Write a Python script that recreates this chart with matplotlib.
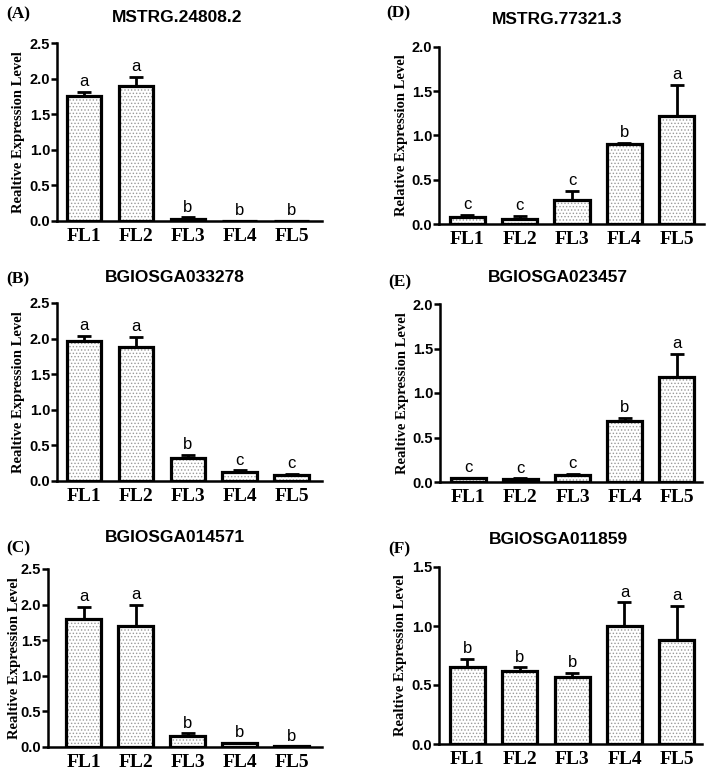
import numpy as np
import matplotlib
matplotlib.use("Agg")
import matplotlib.pyplot as plt

plt.rcParams['hatch.linewidth'] = 0.6

groups = ['FL1', 'FL2', 'FL3', 'FL4', 'FL5']

titles = ['MSTRG.24808.2', 'BGIOSGA033278', 'BGIOSGA014571',
          'MSTRG.77321.3', 'BGIOSGA023457', 'BGIOSGA011859']
panel_labels = ['(A)', '(B)', '(C)', '(D)', '(E)', '(F)']
ylabels = ['Realtive Expression Level', 'Realtive Expression Level', 'Realtive Expression Level',
           'Relative Expression Level', 'Realtive Expression Level', 'Realtive Expression Level']

means_a = [1.75, 1.90, 0.03, 0.005, 0.005]
err_a = [0.06, 0.12, 0.02, 0.0, 0.0]
means_b = [1.97, 1.88, 0.32, 0.12, 0.08]
err_b = [0.07, 0.14, 0.05, 0.03, 0.02]
means_c = [1.80, 1.70, 0.16, 0.05, 0.01]
err_c = [0.17, 0.30, 0.03, 0.01, 0.0]
means_d = [0.08, 0.06, 0.27, 0.90, 1.22]
err_d = [0.02, 0.03, 0.10, 0.02, 0.35]
means_e = [0.04, 0.03, 0.08, 0.68, 1.18]
err_e = [0.01, 0.01, 0.01, 0.04, 0.26]
means_f = [0.65, 0.62, 0.57, 1.00, 0.88]
err_f = [0.07, 0.03, 0.03, 0.20, 0.29]

letters_a = ['a', 'a', 'b', 'b', 'b']
letters_b = ['a', 'a', 'b', 'c', 'c']
letters_c = ['a', 'a', 'b', 'b', 'b']
letters_d = ['c', 'c', 'c', 'b', 'a']
letters_e = ['c', 'c', 'c', 'b', 'a']
letters_f = ['b', 'b', 'b', 'a', 'a']

all_means = [means_a, means_b, means_c, means_d, means_e, means_f]
all_err = [err_a, err_b, err_c, err_d, err_e, err_f]
all_letters = [letters_a, letters_b, letters_c, letters_d, letters_e, letters_f]
ymaxes = [2.5, 2.5, 2.5, 2.0, 2.0, 1.5]

# layout in pixels
W, H = 708, 773
rects = [(57, 43, 322, 221), (57, 303, 322, 481), (48, 569, 322, 747),
         (439, 47, 704, 224), (440, 304, 702, 482), (439, 567, 702, 744)]
xlims = [(-0.52, 4.58), (-0.52, 4.58), (-0.69, 4.58),
         (-0.54, 4.52), (-0.54, 4.48), (-0.54, 4.48)]
title_pos = [(177, 17), (175, 277), (175, 537), (557, 20), (558, 278), (558, 540)]
label_pos = [(6, 14), (6, 279), (6, 548), (386, 13), (388, 282), (388, 549)]
ylabel_x = [25, 25, 21, 408, 409, 407]

fig = plt.figure(figsize=(W / 100, H / 100), dpi=100)

serif = 'Liberation Serif'
sans = 'Liberation Sans'

for i in range(6):
    l, t, r, b = rects[i]
    ax = fig.add_axes([l / W, 1 - b / H, (r - l) / W, (b - t) / H])
    x = np.arange(len(groups))
    m = np.array(all_means[i])
    e = np.array(all_err[i])
    ax.bar(x, m, 0.67, color='white', edgecolor='#9a9a9a', hatch='.....', linewidth=0, zorder=2)
    ax.bar(x, m, 0.67, color='none', edgecolor='black', linewidth=2.3, zorder=3)
    ax.errorbar(x, m, yerr=[np.zeros_like(e), e], fmt='none', ecolor='black',
                elinewidth=2, capsize=5, capthick=2, zorder=1)
    for xi, yi, lab in zip(x, m + e, all_letters[i]):
        ax.annotate(lab, (xi, yi), xytext=(0, 2), textcoords='offset points',
                    ha='center', va='bottom', fontsize=12, family=sans)
    ymax = ymaxes[i]
    ax.set_ylim(0, ymax)
    ax.set_xlim(*xlims[i])
    yt = np.arange(0, ymax + 0.01, 0.5)
    ax.set_yticks(yt)
    ax.set_yticklabels(['%.1f' % v for v in yt], fontsize=10.5, fontweight='bold', family=sans)
    ax.set_xticks(x)
    ax.set_xticklabels(groups, fontsize=14, fontweight='bold', family=serif)
    ax.tick_params(axis='x', length=0, pad=5)
    ax.tick_params(axis='y', length=4, width=1.8, pad=1)
    for s in ['top', 'right']:
        ax.spines[s].set_visible(False)
    for s in ['left', 'bottom']:
        ax.spines[s].set_linewidth(1.8)
    ax.set_ylabel(ylabels[i], fontsize=10.5, fontweight='bold', family=serif)
    ax.yaxis.set_label_coords((ylabel_x[i] - l) / (r - l), 0.5)

    tx, ty = title_pos[i]
    fig.text(tx / W, 1 - ty / H, titles[i], fontsize=12.5, fontweight='bold', family=sans,
             ha='center', va='center')
    px, py = label_pos[i]
    fig.text(px / W, 1 - py / H, panel_labels[i], fontsize=12.5, fontweight='bold', family=serif,
             ha='left', va='center')

fig.savefig('out.png', dpi=100)
